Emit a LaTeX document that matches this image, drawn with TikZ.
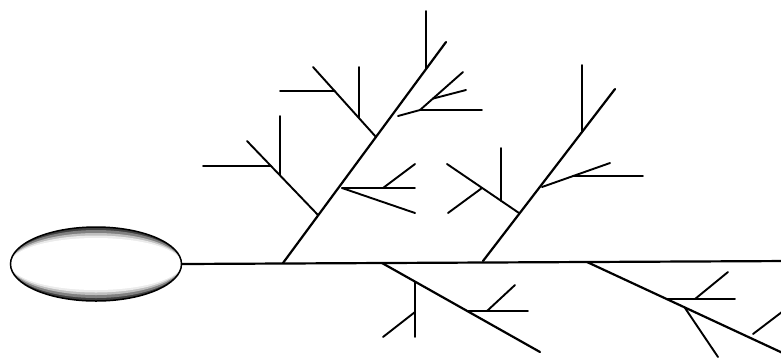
\documentclass[tikz,border=0pt]{standalone}
\usetikzlibrary{shapes.geometric,calc}

\begin{document}
\begin{tikzpicture}[
  x=1pt, y=-1pt,
  bone/.style={line width=2.2pt, line cap=round},
  twig/.style={line width=1.9pt, line cap=round},
  seedbox/.style={draw, ellipse, line width=1.5pt, inner sep=0pt,
    minimum width=171pt, minimum height=74pt, fill=black!75,
    path picture={
      \fill[black!50] (path picture bounding box.center) ellipse (86pt and 34pt);
      \fill[black!25] (path picture bounding box.center) ellipse (86pt and 31pt);
      \fill[black!8] (path picture bounding box.center) ellipse (86pt and 28.5pt);
      \fill[white] (path picture bounding box.center) ellipse (86pt and 26pt);}},
]
  \useasboundingbox (0,0) rectangle (781,360);
  \clip (0,0) rectangle (781,360);

  \node[seedbox] (seed) at (96,264) {};
  \coordinate (tail) at (790,261);
  \draw[bone] (seed.east) -- (tail);

  % upper left branch
  \coordinate (a0) at (283,263);  \coordinate (a1) at (446,42);
  \draw[bone] (a0) -- (a1);
  \coordinate (a2) at (318,215);  \coordinate (a2t) at (247,141);
  \draw[twig] (a2) -- (a2t);
  \draw[twig] (271,166) -- (203,166);
  \draw[twig] (280,175) -- (280,116);
  \coordinate (a3) at (376,137);  \coordinate (a3t) at (313,67);
  \draw[twig] (a3) -- (a3t);
  \draw[twig] (335,91) -- (280,91);
  \draw[twig] (359,118) -- (359,67);
  \draw[twig] (426,69) -- (426,11);
  \coordinate (ar) at (398,116);  \coordinate (ah) at (420,110);
  \draw[twig] (ar) -- (ah) -- (482,110);
  \draw[twig] (ah) -- (463,72);
  \draw[twig] ($(ah)!0.3!(463,72)$) -- (466,90);
  \coordinate (aq) at (342,188);
  \draw[twig] (aq) -- (415,188);
  \draw[twig] (383,188) -- (415,164);
  \draw[twig] (aq) -- (415,213);

  % upper right branch
  \coordinate (b0) at (483,261);  \coordinate (b1) at (615,89);
  \draw[bone] (b0) -- (b1);
  \draw[twig] (582,132) -- (582,65);
  \coordinate (br) at (542,187);
  \draw[twig] (br) -- (610,163);
  \draw[twig] (573,176) -- (643,176);
  \coordinate (b2) at (519,213);  \coordinate (b2t) at (447,164);
  \draw[twig] (b2) -- (b2t);
  \draw[twig] (501,201) -- (501,148);
  \draw[twig] (482,188) -- (448,213);

  % lower left branch
  \coordinate (c0) at (382,263);  \coordinate (c1) at (540,352);
  \draw[bone] (c0) -- (c1);
  \draw[twig] (415,282) -- (415,337);
  \draw[twig] (415,312) -- (383,337);
  \draw[twig] (467,311) -- (528,311);
  \draw[twig] (487,311) -- (515,285);

  % lower right branch
  \coordinate (d0) at (587,262);  \coordinate (d1) at (800,361);
  \draw[bone] (d0) -- (d1);
  \draw[twig] (667,299) -- (735,299);
  \draw[twig] (695,299) -- (728,272);
  \draw[twig] (685,308) -- (718,357);
  \draw[twig] (753,334) -- (795,302);
\end{tikzpicture}
\end{document}
